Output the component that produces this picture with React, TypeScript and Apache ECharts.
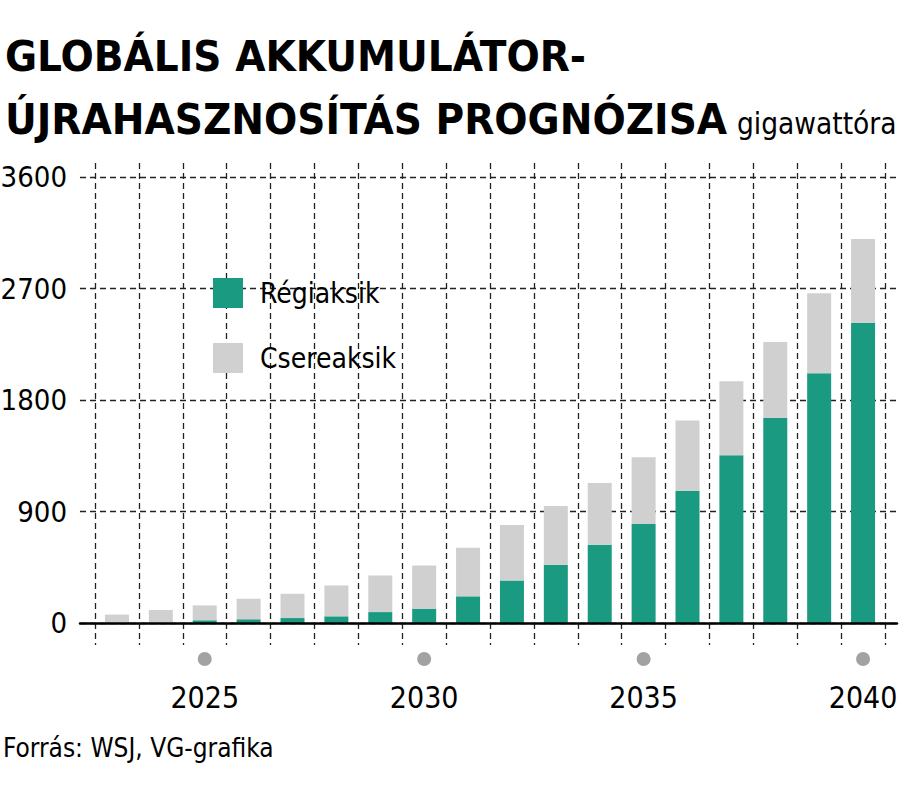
import React, { useEffect, useRef } from "react";
import * as echarts from "echarts";

const YEARS = ["2023","2024","2025","2026","2027","2028","2029","2030","2031","2032","2033","2034","2035","2036","2037","2038","2039","2040"];
const REGIAKSIK = [0, 0, 22, 30, 40, 54, 88, 116, 215, 344, 470, 631, 800, 1065, 1354, 1654, 2015, 2421];
const CSEREAKSIK = [68, 105, 120, 166, 196, 249, 295, 348, 393, 448, 474, 500, 538, 570, 597, 614, 647, 679];
const Y_TICKS = [0, 900, 1800, 2700, 3600];
const SERIES_NAMES = ["Régiaksik", "Csereaksik"];
const TITLE_LINES = ["GLOBÁLIS AKKUMULÁTOR-", "ÚJRAHASZNOSÍTÁS PROGNÓZISA"];
const UNIT = "gigawattóra";
const SOURCE = "Forrás: WSJ, VG-grafika";

const FONT = "'DejaVu Sans Condensed', 'DejaVu Sans', sans-serif";
const GREEN = "#1b9a82";
const GRAY = "#d0d0d0";

export default function App() {
  const ref = useRef<HTMLDivElement>(null);
  useEffect(() => {
    if (!ref.current) return;
    const chart = echarts.init(ref.current, null, { renderer: "svg" });
    const H = 789;
    const plotTop = 177;
    const plotBottom = 623;
    const gridTopExt = 163;
    const yMax = Y_TICKS[Y_TICKS.length - 1];
    const yInterval = Y_TICKS[1] - Y_TICKS[0];
    const yMaxExt = (yMax * (plotBottom - gridTopExt)) / (plotBottom - plotTop);
    const dash = { color: "#222", width: 1.3, type: [6, 4] };

    chart.setOption({
      animation: false,
      backgroundColor: "#ffffff",
      textStyle: { fontFamily: FONT },
      legend: {
        orient: "vertical",
        left: 213,
        top: 278,
        padding: 0,
        itemWidth: 30,
        itemHeight: 30,
        itemGap: 35,
        icon: "rect",
        data: SERIES_NAMES,
        selectedMode: false,
        textStyle: { fontSize: 28, color: "#000", fontFamily: FONT, padding: [0, 0, 0, 12], lineHeight: 30 },
      },
      grid: [
        { left: 80, right: 3, top: plotTop, bottom: H - plotBottom, outerBoundsMode: "none", containLabel: false },
        { left: 95, right: 15, top: gridTopExt, bottom: H - plotBottom, outerBoundsMode: "none", containLabel: false },
      ],
      xAxis: [
        {
          gridIndex: 0,
          type: "value",
          min: 0,
          max: 1,
          z: 10,
          axisLine: { show: true, lineStyle: { color: "#000", width: 2.5 } },
          axisTick: { show: false },
          axisLabel: { show: false },
          splitLine: { show: false },
        },
        {
          gridIndex: 1,
          type: "category",
          data: YEARS,
          boundaryGap: true,
          axisLine: { show: false },
          axisTick: { show: true, interval: 0, length: 22, lineStyle: dash },
          splitLine: { show: true, interval: 0, lineStyle: dash },
          axisLabel: {
            interval: 0,
            margin: 29,
            hideOverlap: false,
            formatter: (v: string) => (Number(v) % 5 === 0 ? `{dot|}\n{yr|${v}}` : ""),
            rich: {
              dot: { width: 14, height: 14, lineHeight: 14, borderRadius: 7, backgroundColor: "#a2a2a2" },
              yr: { fontSize: 30, lineHeight: 63, color: "#000", fontFamily: FONT },
            },
          },
        },
      ],
      yAxis: [
        {
          gridIndex: 0,
          type: "value",
          min: 0,
          max: yMax,
          interval: yInterval,
          axisLine: { show: false },
          axisTick: { show: false },
          axisLabel: { fontSize: 29, color: "#000", margin: 13, fontFamily: FONT, formatter: (v: number) => String(v) },
          splitLine: { show: true, lineStyle: dash },
        },
        {
          gridIndex: 1,
          type: "value",
          min: 0,
          max: yMaxExt,
          show: false,
          splitLine: { show: false },
        },
      ],
      series: [
        {
          name: SERIES_NAMES[0],
          type: "bar",
          stack: "total",
          xAxisIndex: 1,
          yAxisIndex: 1,
          barWidth: 24,
          itemStyle: { color: GREEN },
          data: REGIAKSIK,
        },
        {
          name: SERIES_NAMES[1],
          type: "bar",
          stack: "total",
          xAxisIndex: 1,
          yAxisIndex: 1,
          barWidth: 24,
          itemStyle: { color: GRAY },
          data: CSEREAKSIK,
        },
      ],
      graphic: [
        {
          type: "text",
          left: 5,
          top: 34,
          style: { text: TITLE_LINES[0], font: `bold 43.5px ${FONT}`, fill: "#000" },
        },
        {
          type: "text",
          left: 5,
          top: 97,
          style: { text: TITLE_LINES[1], font: `bold 43.5px ${FONT}`, fill: "#000" },
        },
        {
          type: "text",
          left: 737,
          top: 109,
          style: { text: UNIT, font: `29.5px ${FONT}`, fill: "#000" },
        },
        {
          type: "text",
          left: 3,
          top: 735,
          style: { text: SOURCE, font: `26px ${FONT}`, fill: "#000" },
        },
      ],
    });
    return () => chart.dispose();
  }, []);
  return (
    <div
      ref={ref}
      style={{ position: "fixed", left: 0, top: 0, width: 900, height: 789, background: "#fff" }}
    />
  );
}
